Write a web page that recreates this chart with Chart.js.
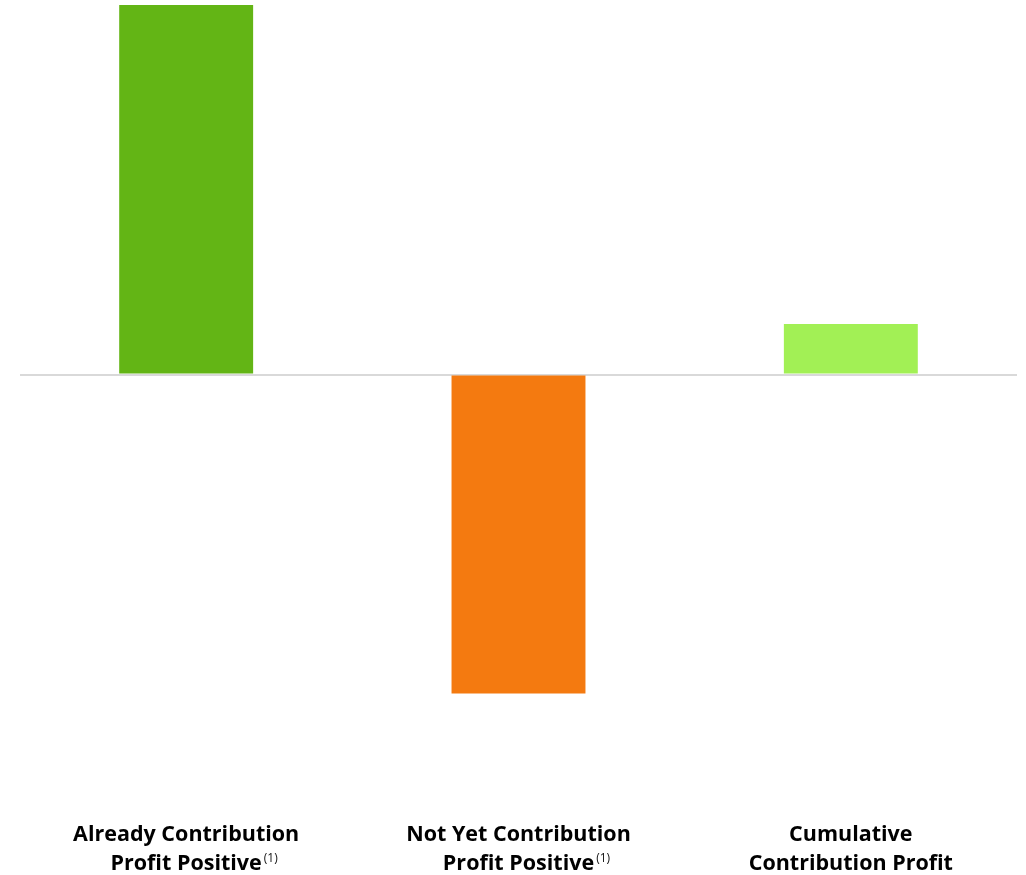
<!DOCTYPE html>
<html lang="en">
<head>
  <meta charset="UTF-8" />
  <title>Contribution Profit</title>
  <script src="https://cdn.jsdelivr.net/npm/chart.js"></script>
  <style>
    html, body {
      margin: 0;
      padding: 0;
      background: #fff;
      overflow: hidden;
    }

    .wrap {
      width: 1026px;
      height: 878px;
    }
  </style>
</head>
<body>
  <div class="wrap">
    <canvas id="chart"></canvas>
  </div>

  <script>
    // values (relative units, no axis shown)
    const categories = [
      ["Already Contribution", "Profit Positive"],
      ["Not Yet Contribution", "Profit Positive"],
      ["Cumulative", "Contribution Profit"]
    ];
    const footnotes = ["(1)", "(1)", ""];
    const values = [7.3, -6.3, 1.0];
    const barColors = ["#63b515", "#f47a10", "#a2f055"];

    const LINE_H = 29;
    const labelFont = { family: "'Open Sans', sans-serif", size: 21.5, weight: "bold", lineHeight: LINE_H / 21.5 };

    // small raised "(1)" after the last line of a label
    const footnotePlugin = {
      id: "footnotes",
      afterDraw(chart) {
        const ctx = chart.ctx;
        const x = chart.scales.x;
        const pad = x.options.ticks.padding;
        ctx.save();
        footnotes.forEach((note, i) => {
          if (!note) return;
          const lines = categories[i];
          const last = lines[lines.length - 1];
          ctx.font = "bold 21.5px 'Open Sans', sans-serif";
          const w = ctx.measureText(last).width;
          const cx = x.getPixelForTick(i);
          const midY = x.top + pad + LINE_H * (lines.length - 0.5);
          ctx.font = "12px 'Open Sans', sans-serif";
          ctx.fillStyle = "#111";
          ctx.textAlign = "left";
          ctx.textBaseline = "middle";
          ctx.fillText(note, cx + w / 2 + 2, midY - 5);
        });
        ctx.restore();
      }
    };

    new Chart(document.getElementById("chart"), {
      type: "bar",
      data: {
        labels: categories,
        datasets: [{
          data: values,
          backgroundColor: barColors,
          borderWidth: 0,
          barPercentage: 0.403,
          categoryPercentage: 1
        }]
      },
      options: {
        responsive: true,
        maintainAspectRatio: false,
        animation: false,
        layout: { padding: { top: 5, left: 20, right: 9, bottom: 0 } },
        plugins: {
          legend: { display: false },
          tooltip: { enabled: false }
        },
        scales: {
          x: {
            grid: { display: false, drawTicks: false },
            border: { display: false },
            ticks: {
              color: "#000",
              font: labelFont,
              padding: 0,
              maxRotation: 0,
              autoSkip: false
            }
          },
          y: {
            min: -8.8,
            max: 7.3,
            z: 1,
            border: { display: false },
            grid: {
              drawTicks: false,
              lineWidth: 2,
              color: (c) => (c.tick && c.tick.value === 0 ? "#d9d9d9" : "rgba(0,0,0,0)")
            },
            ticks: { display: false }
          }
        }
      },
      plugins: [footnotePlugin]
    });
  </script>
</body>
</html>
